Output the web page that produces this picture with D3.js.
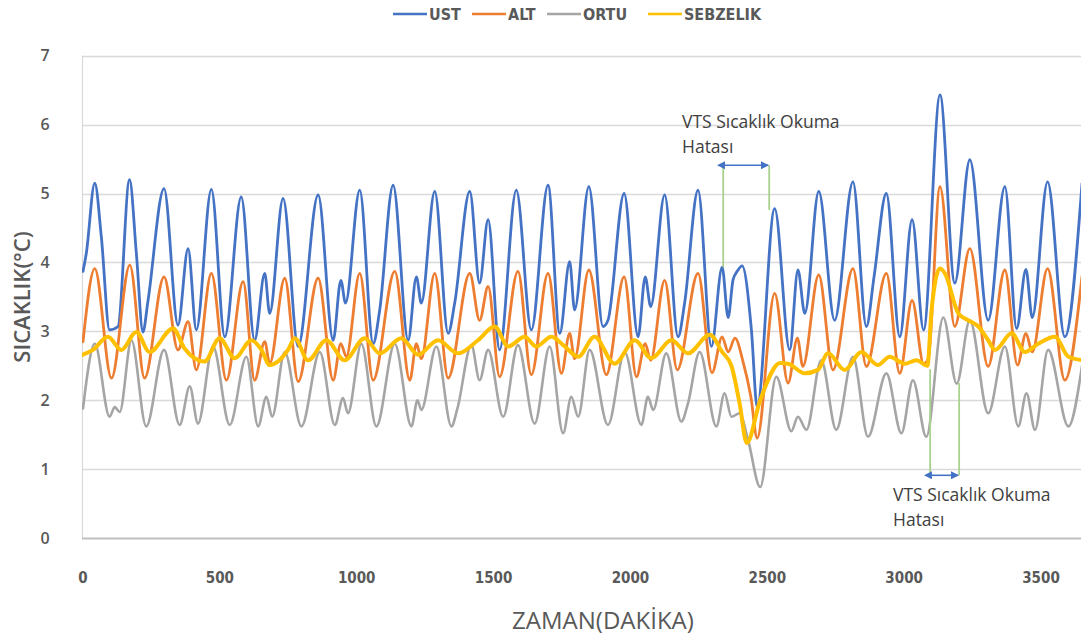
<!DOCTYPE html>
<html>
<head>
<meta charset="utf-8">
<script src="https://cdn.jsdelivr.net/npm/d3@7"></script>
<style>
  html, body { margin: 0; padding: 0; background: #ffffff; }
  svg { display: block; }
</style>
</head>
<body>
<svg id="chart" width="1081" height="644"></svg>
<script>
// Temperature readings per layer, [minute, °C]
const ust = [[0,3.87],[12,4.13],[43,5.15],[67,4.37],[97,3.02],[128,3.07],[170,5.20],[195,4.13],[219,2.99],[237,3.43],[296,5.07],[347,3.09],[384,4.20],[414,3.02],[469,5.06],[518,2.92],[578,4.95],[627,2.87],[664,3.84],[682,3.26],[731,4.93],[786,2.78],[859,4.98],[914,2.87],[942,3.74],[959,3.41],[1011,5.05],[1060,2.82],[1084,3.31],[1133,5.12],[1188,2.87],[1218,3.79],[1236,3.41],[1285,5.03],[1334,2.97],[1358,3.41],[1413,5.03],[1449,3.70],[1480,4.62],[1522,2.73],[1583,5.05],[1638,3.02],[1699,5.12],[1742,2.97],[1778,4.01],[1796,3.31],[1848,5.10],[1900,3.07],[1918,3.16],[1977,5.00],[2028,2.92],[2054,3.79],[2074,3.36],[2125,4.98],[2174,2.92],[2198,3.41],[2247,5.05],[2296,2.78],[2335,3.93],[2357,3.20],[2375,3.75],[2390,3.87],[2408,3.95],[2442,3.02],[2463,1.90],[2527,4.78],[2582,2.73],[2612,3.89],[2637,3.26],[2688,5.03],[2746,3.16],[2813,5.17],[2862,3.07],[2890,3.79],[2935,5.00],[2984,2.92],[3029,4.62],[3071,3.02],[3131,6.43],[3185,3.70],[3240,5.49],[3307,3.16],[3368,5.10],[3411,3.04],[3445,3.90],[3468,3.20],[3524,5.17],[3587,2.92],[3650,5.15]];

const alt = [[0,2.85],[43,3.91],[104,2.32],[171,3.96],[225,2.32],[296,3.79],[347,2.73],[384,3.14],[414,2.44],[469,3.84],[524,2.29],[585,3.72],[627,2.29],[664,2.85],[682,2.53],[737,3.77],[786,2.27],[859,3.77],[914,2.29],[942,2.82],[962,2.63],[1011,3.84],[1060,2.29],[1139,3.87],[1194,2.29],[1218,2.82],[1236,2.60],[1285,3.84],[1334,2.32],[1413,3.84],[1449,3.16],[1480,3.65],[1522,2.34],[1589,3.87],[1638,2.37],[1699,3.84],[1748,2.39],[1778,2.97],[1796,2.60],[1848,3.89],[1912,2.37],[1977,3.79],[2022,2.34],[2054,2.82],[2074,2.58],[2125,3.74],[2171,2.44],[2247,3.84],[2298,2.40],[2335,2.92],[2357,2.70],[2382,2.90],[2412,2.55],[2440,2.05],[2463,1.45],[2527,3.55],[2576,2.25],[2610,2.90],[2630,2.49],[2688,3.82],[2740,2.44],[2813,3.91],[2862,2.49],[2935,3.84],[2984,2.39],[3029,3.45],[3071,2.53],[3088,2.60],[3131,5.10],[3185,3.07],[3240,4.20],[3307,2.49],[3368,3.89],[3414,2.51],[3445,2.97],[3468,2.70],[3524,3.91],[3587,2.29],[3650,3.80]];

const ortu = [[0,1.88],[43,2.82],[97,1.76],[116,1.90],[134,1.83],[177,2.87],[231,1.62],[296,2.73],[353,1.64],[390,2.20],[420,1.66],[475,2.78],[536,1.64],[597,2.63],[640,1.62],[670,2.05],[691,1.76],[737,2.70],[798,1.62],[865,2.70],[920,1.64],[950,2.03],[968,1.81],[1017,2.82],[1072,1.62],[1139,2.82],[1200,1.62],[1222,2.00],[1236,1.86],[1291,2.78],[1346,1.62],[1368,1.88],[1419,2.80],[1449,2.29],[1480,2.73],[1535,1.76],[1589,2.80],[1650,1.66],[1705,2.78],[1754,1.52],[1784,2.05],[1809,1.76],[1851,2.73],[1918,1.64],[1979,2.70],[2040,1.64],[2064,2.05],[2083,1.86],[2131,2.68],[2186,1.69],[2210,1.95],[2253,2.70],[2314,1.62],[2344,2.10],[2369,1.76],[2399,1.81],[2430,1.42],[2474,0.74],[2533,2.34],[2588,1.55],[2612,1.76],[2643,1.57],[2697,2.58],[2752,1.57],[2813,2.63],[2868,1.47],[2935,2.39],[2990,1.52],[3032,2.29],[3081,1.47],[3143,3.20],[3192,2.24],[3240,3.16],[3307,1.81],[3368,2.78],[3417,1.62],[3447,2.10],[3478,1.57],[3526,2.73],[3600,1.62],[3650,2.50]];

const sebzelik = [[0,2.66],[36,2.73],[91,2.92],[140,2.73],[195,2.99],[243,2.70],[329,3.04],[371,2.75],[444,2.56],[499,2.90],[554,2.61],[615,2.87],[652,2.73],[682,2.51],[749,2.73],[774,2.90],[822,2.58],[889,2.87],[956,2.58],[1029,2.90],[1084,2.68],[1163,2.90],[1224,2.66],[1297,2.87],[1370,2.68],[1443,2.87],[1504,3.07],[1553,2.78],[1614,2.92],[1656,2.78],[1711,2.92],[1760,2.78],[1809,2.63],[1869,2.92],[1942,2.53],[2016,2.87],[2076,2.61],[2150,2.87],[2210,2.68],[2290,2.95],[2335,2.70],[2369,2.50],[2399,1.95],[2425,1.38],[2474,2.00],[2547,2.54],[2576,2.53],[2637,2.39],[2685,2.44],[2722,2.68],[2783,2.44],[2844,2.70],[2904,2.51],[2947,2.63],[3002,2.53],[3045,2.58],[3085,2.50],[3100,3.30],[3131,3.91],[3149,3.84],[3198,3.26],[3234,3.16],[3271,3.07],[3307,2.87],[3332,2.73],[3393,2.97],[3441,2.70],[3490,2.82],[3551,2.92],[3600,2.63],[3650,2.58]];

const seriesNames = ["UST", "ALT", "ORTU", "SEBZELIK"];
const seriesColors = ["#4472C4", "#ED7D31", "#A5A5A5", "#FFC000"];
const xTicks = [0, 500, 1000, 1500, 2000, 2500, 3000, 3500];
const yTicks = [0, 1, 2, 3, 4, 5, 6, 7];

// Sensor read-error windows: [start, end] in minutes
const errorWindows = [[2339, 2507], [3095, 3201]];
const noteText = ["VTS Sıcaklık Okuma", "Hatası"];

const svg = d3.select("#chart");
const W = 1081, H = 644;

const x = d3.scaleLinear().domain([0, 3500]).range([83, 1041]);
const y = d3.scaleLinear().domain([0, 7]).range([538, 55.7]);

const labelFont = "'DejaVu Sans Condensed', 'DejaVu Sans', sans-serif";

// gridlines
svg.append("g").selectAll("line").data(yTicks.filter(d => d > 0)).join("line")
  .attr("x1", 82).attr("x2", W)
  .attr("y1", d => Math.round(y(d)) + 0.5).attr("y2", d => Math.round(y(d)) + 0.5)
  .attr("stroke", "#D9D9D9").attr("stroke-width", 1.5);

// left frame and baseline
svg.append("line").attr("x1", 82.5).attr("x2", 82.5).attr("y1", y(7)).attr("y2", y(0))
  .attr("stroke", "#D9D9D9").attr("stroke-width", 1.2);
svg.append("line").attr("x1", 82).attr("x2", W).attr("y1", y(0) + 0.5).attr("y2", y(0) + 0.5)
  .attr("stroke", "#BFBFBF").attr("stroke-width", 2);

// y tick labels
svg.append("g").selectAll("text").data(yTicks).join("text")
  .attr("x", 45).attr("y", d => y(d)).attr("dy", "0.36em")
  .attr("text-anchor", "middle")
  .attr("font-family", "'Open Sans', sans-serif").attr("font-weight", 600)
  .attr("font-size", 16).attr("fill", "#595959")
  .text(d => d);

// x tick labels
svg.append("g").selectAll("text").data(xTicks).join("text")
  .attr("x", d => x(d)).attr("y", 578).attr("dy", "0.36em")
  .attr("text-anchor", "middle")
  .attr("font-family", labelFont).attr("font-weight", 600)
  .attr("font-size", 15).attr("fill", "#595959")
  .text(d => d);

// axis titles
svg.append("text")
  .attr("transform", "translate(22,297) rotate(-90)")
  .attr("text-anchor", "middle").attr("dy", "0.36em")
  .attr("font-family", "'Open Sans', sans-serif").attr("font-size", 22)
  .attr("font-weight", 600)
  .attr("fill", "#595959")
  .text("SICAKLIK(°C)");
svg.append("text")
  .attr("x", 603).attr("y", 620).attr("dy", "0.36em")
  .attr("text-anchor", "middle")
  .attr("font-family", "'Open Sans', sans-serif").attr("font-size", 24)
  .attr("fill", "#595959")
  .text("ZAMAN(DAKİKA)");

// series lines
const line = d3.line().x(d => x(d[0])).y(d => y(d[1])).curve(d3.curveMonotoneX);
const seriesData = [ust, alt, ortu, sebzelik];
const widths = [2.8, 2.8, 2.6, 4];
svg.append("defs").append("clipPath").attr("id", "plotClip")
  .append("rect").attr("x", 82).attr("y", 0).attr("width", W - 82).attr("height", 540);
const lines = svg.append("g").attr("clip-path", "url(#plotClip)");
seriesData.forEach((s, i) => {
  lines.append("path").datum(s)
    .attr("d", line)
    .attr("fill", "none")
    .attr("stroke", seriesColors[i])
    .attr("stroke-width", widths[i])
    .attr("stroke-linejoin", "round")
    .attr("stroke-linecap", "round");
});

// legend
const legendX = [393, 472, 547, 648];
const legend = svg.append("g");
seriesNames.forEach((name, i) => {
  legend.append("line")
    .attr("x1", legendX[i]).attr("x2", legendX[i] + 34)
    .attr("y1", 14).attr("y2", 14)
    .attr("stroke", seriesColors[i]).attr("stroke-width", 2.5);
  legend.append("text")
    .attr("x", legendX[i] + 36).attr("y", 14).attr("dy", "0.36em")
    .attr("font-family", labelFont).attr("font-weight", 700)
    .attr("font-size", 16).attr("fill", "#595959")
    .text(name);
});

// read-error annotations
const defs = svg.select("defs");
["arrowEnd", "arrowStart"].forEach((id, k) => {
  defs.append("marker").attr("id", id)
    .attr("viewBox", "0 0 10 10").attr("refX", k === 0 ? 9 : 1).attr("refY", 5)
    .attr("markerWidth", 5).attr("markerHeight", 5)
    .attr("orient", k === 0 ? "auto" : "auto-start-reverse")
    .append("path").attr("d", "M0,0 L10,5 L0,10 z").attr("fill", "#4472C4");
});

const notes = [
  { win: errorWindows[0], arrowV: 5.41, ends: [3.93, 4.76], textX: 682, textY: 128 },
  { win: errorWindows[1], arrowV: 0.91, ends: [2.45, 2.25], textX: 893, textY: 501 }
];
const ann = svg.append("g");
notes.forEach(n => {
  n.win.forEach((t, j) => {
    ann.append("line")
      .attr("x1", x(t)).attr("x2", x(t))
      .attr("y1", y(n.arrowV)).attr("y2", y(n.ends[j]))
      .attr("stroke", "#A9D18E").attr("stroke-width", 1.8);
  });
  ann.append("line")
    .attr("x1", x(n.win[0]) + 1).attr("x2", x(n.win[1]) - 1)
    .attr("y1", y(n.arrowV)).attr("y2", y(n.arrowV))
    .attr("stroke", "#4472C4").attr("stroke-width", 1.6)
    .attr("marker-end", "url(#arrowEnd)")
    .attr("marker-start", "url(#arrowStart)");
  noteText.forEach((t, k) => {
    ann.append("text")
      .attr("x", n.textX).attr("y", n.textY + k * 25)
      .attr("font-family", "'Open Sans', sans-serif").attr("font-size", 17.5)
      .attr("fill", "#404040")
      .text(t);
  });
});
</script>
</body>
</html>
